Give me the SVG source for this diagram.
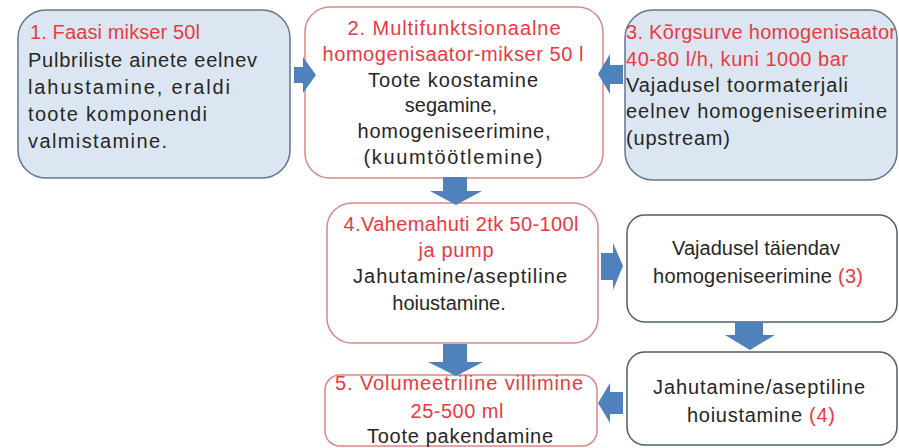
<svg xmlns="http://www.w3.org/2000/svg" width="899" height="448" viewBox="0 0 899 448">
<defs>
<style>
.blue{fill:#dce6f2;stroke:#63768f;stroke-width:1.5}
.red{fill:#ffffff;stroke:#d98886;stroke-width:1.5}
.gray{fill:#ffffff;stroke:#4f5d70;stroke-width:1.5}
text{font-family:"Liberation Sans",Arial,sans-serif;font-size:20px;fill:#262626}
.r{fill:#ea3a40}
.c{text-anchor:middle}
.arr{fill:#4f81bd}
</style>
</defs>
<rect width="899" height="448" fill="#ffffff"/>
<g id="node1">
<rect class="blue" x="18" y="10" width="272" height="168" rx="28"/>
<text class="r" x="30" y="39" textLength="170">1. Faasi mikser 50l</text>
<text x="28" y="67" textLength="229">Pulbriliste ainete eelnev</text>
<text x="28" y="94" textLength="202">lahustamine, eraldi</text>
<text x="28" y="121" textLength="179">toote komponendi</text>
<text x="28" y="148" textLength="139">valmistamine.</text>
</g>
<g id="node2">
<rect class="red" x="305" y="7" width="298" height="171" rx="25"/>
<text class="r c" x="454" y="35" textLength="213">2. Multifunktsionaalne</text>
<text class="r c" x="453" y="61" textLength="261">homogenisaator-mikser 50 l</text>
<text class="c" x="453" y="87" textLength="170">Toote koostamine</text>
<text class="c" x="451" y="112">segamine,</text>
<text class="c" x="454" y="138" textLength="193">homogeniseerimine,</text>
<text class="c" x="453" y="164" textLength="179">(kuumtöötlemine)</text>
</g>
<g id="node3">
<rect class="blue" x="625" y="10" width="272" height="170" rx="28"/>
<text class="r" x="626" y="39" textLength="270">3. Kõrgsurve homogenisaator</text>
<text class="r" x="626" y="66" textLength="222">40-80 l/h, kuni 1000 bar</text>
<text x="626" y="92" textLength="222">Vajadusel toormaterjali</text>
<text x="626" y="118" textLength="261">eelnev homogeniseerimine</text>
<text x="626" y="145" textLength="104">(upstream)</text>
</g>
<g id="node4">
<rect class="red" x="327" y="203" width="271" height="140" rx="25"/>
<text class="r c" x="461" y="231" textLength="235">4.Vahemahuti 2tk 50-100l</text>
<text class="r c" x="456" y="257" textLength="75">ja pump</text>
<text class="c" x="460" y="283" textLength="214">Jahutamine/aseptiline</text>
<text class="c" x="449" y="310">hoiustamine.</text>
</g>
<g id="node5">
<rect class="gray" x="627" y="215" width="270" height="107" rx="18"/>
<text class="c" x="756" y="255" textLength="168">Vajadusel täiendav</text>
<text class="c" x="758" y="283" textLength="210">homogeniseerimine <tspan class="r">(3)</tspan></text>
</g>
<g id="node6">
<rect class="gray" x="627" y="352" width="270" height="93" rx="18"/>
<text class="c" x="759" y="394" textLength="212">Jahutamine/aseptiline</text>
<text class="c" x="761" y="422" textLength="148">hoiustamine <tspan class="r">(4)</tspan></text>
</g>
<g id="node7">
<rect class="red" x="325" y="375" width="272" height="71" rx="15"/>
<text class="r c" x="459" y="390" textLength="248">5. Volumeetriline villimine</text>
<text class="r c" x="457" y="418" textLength="93">25-500 ml</text>
<text class="c" x="460" y="443" textLength="186">Toote pakendamine</text>
</g>
<g id="connectors">
<polygon class="arr" points="294,67 303,67 303,57 316,75 303,93 303,83 294,83"/>
<polygon class="arr" points="623,65 610,65 610,54 598,74 610,94 610,84 623,84"/>
<polygon class="arr" points="443,177 467,177 467,191 482,191 456,205 430,191 443,191"/>
<polygon class="arr" points="601,253 613,253 613,243 623,266 613,290 613,280 601,280"/>
<polygon class="arr" points="735,322 763,322 763,335 775,335 750,350 725,335 735,335"/>
<polygon class="arr" points="623,392 610,392 610,383 598,403 610,423 610,414 623,414"/>
<polygon class="arr" points="443,344 467,344 467,362 483,362 456,376 428,362 443,362"/>
</g>
</svg>
